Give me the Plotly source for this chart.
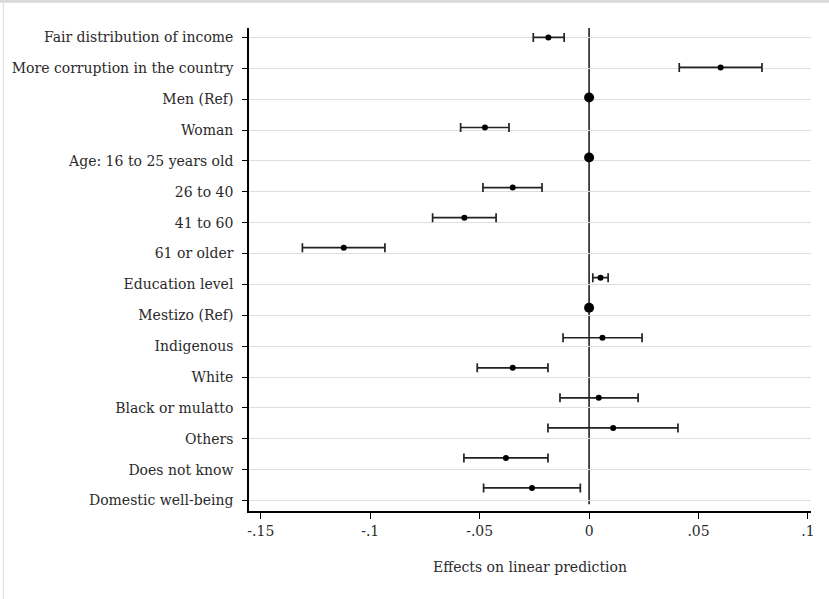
import plotly.graph_objects as go

categories = [
    "Fair distribution of income",
    "More corruption in the country",
    "Men (Ref)",
    "Woman",
    "Age: 16 to 25 years old",
    "26 to 40",
    "41 to 60",
    "61 or older",
    "Education level",
    "Mestizo (Ref)",
    "Indigenous",
    "White",
    "Black or mulatto",
    "Others",
    "Does not know",
    "Domestic well-being",
]
# point estimates (reference categories have no CI)
estimate = [-0.0186, 0.0601, 0.0, -0.0476, 0.0, -0.0349, -0.0570, -0.1121,
            0.0052, 0.0, 0.0061, -0.0349, 0.0044, 0.0110, -0.0380, -0.0261]
ci_low = [-0.0255, 0.0412, None, -0.0587, None, -0.0485, -0.0715, -0.1310,
          0.0017, None, -0.0119, -0.0511, -0.0133, -0.0188, -0.0572, -0.0482]
ci_high = [-0.0114, 0.0790, None, -0.0366, None, -0.0215, -0.0425, -0.0933,
           0.0087, None, 0.0242, -0.0188, 0.0224, 0.0406, -0.0188, -0.0040]
x_tickvals = [-0.15, -0.10, -0.05, 0.0, 0.05, 0.10]
x_ticktext = ["-.15", "-.1", "-.05", "0", ".05", ".1"]
x_title = "Effects on linear prediction"

est_cat, est_x, err_plus, err_minus = [], [], [], []
ref_cat, ref_x = [], []
for c, e, lo, hi in zip(categories, estimate, ci_low, ci_high):
    if lo is None:
        ref_cat.append(c)
        ref_x.append(e)
    else:
        est_cat.append(c)
        est_x.append(e)
        err_plus.append(hi - e)
        err_minus.append(e - lo)

FONT = "DejaVu Serif"
TXT = "#2a2a2a"
FS = 14

fig = go.Figure()
# invisible trace anchoring the labelled category axis
fig.add_trace(go.Scatter(
    x=estimate, y=categories, mode="markers",
    marker=dict(size=1, opacity=0), showlegend=False, hoverinfo="skip",
))
fig.add_trace(go.Scatter(
    x=est_x, y=est_cat, mode="markers", yaxis="y2",
    marker=dict(color="black", size=6),
    error_x=dict(type="data", symmetric=False, array=err_plus,
                 arrayminus=err_minus, color="#222222", thickness=1.7, width=4.5),
    showlegend=False, hoverinfo="x+y",
))
fig.add_trace(go.Scatter(
    x=ref_x, y=ref_cat, mode="markers", yaxis="y2",
    marker=dict(color="black", size=10),
    showlegend=False, hoverinfo="x+y",
))

fig.update_layout(
    width=829, height=599,
    margin=dict(l=249, r=18, t=28, b=88),
    paper_bgcolor="white", plot_bgcolor="white",
    font=dict(family=FONT, size=FS, color=TXT),
    xaxis=dict(
        range=[-0.1554, 0.1014], tickvals=x_tickvals, ticktext=x_ticktext,
        ticks="outside", ticklen=6, tickwidth=1.3, tickcolor="black",
        showline=True, linecolor="black", linewidth=1.6,
        showgrid=False, zeroline=False,
        tickfont=dict(family=FONT, size=FS, color=TXT),
        title=dict(text=x_title, font=dict(family=FONT, size=FS, color=TXT), standoff=25),
    ),
    yaxis=dict(
        type="category", categoryorder="array", categoryarray=categories,
        tickvals=categories, ticktext=categories,
        range=[15.337, -0.305],
        ticks="outside", ticklen=5, tickwidth=1.3, tickcolor="black",
        showline=True, linecolor="black", linewidth=1.6,
        showgrid=True, gridcolor="#dedede", gridwidth=1.2,
        zeroline=False, ticklabelstandoff=6,
        tickfont=dict(family=FONT, size=FS, color=TXT),
    ),
    yaxis2=dict(
        type="category", categoryorder="array", categoryarray=categories,
        overlaying="y", range=[15.767, -0.313], visible=False,
        showgrid=False, zeroline=False,
    ),
    shapes=[
        dict(type="line", xref="x", yref="paper", x0=0, x1=0, y0=0.014, y1=1,
             line=dict(color="black", width=1.4), layer="below"),
        dict(type="rect", xref="paper", yref="paper", x0=-0.45, x1=1.04,
             y0=1.0525, y1=1.07, fillcolor="#d9d9d9", line=dict(width=0)),
        dict(type="line", xref="paper", yref="paper", x0=-0.437, x1=-0.437,
             y0=-0.2, y1=1.0525, line=dict(color="#e0e0e0", width=1.2)),
    ],
)

fig.write_html("out.html")
